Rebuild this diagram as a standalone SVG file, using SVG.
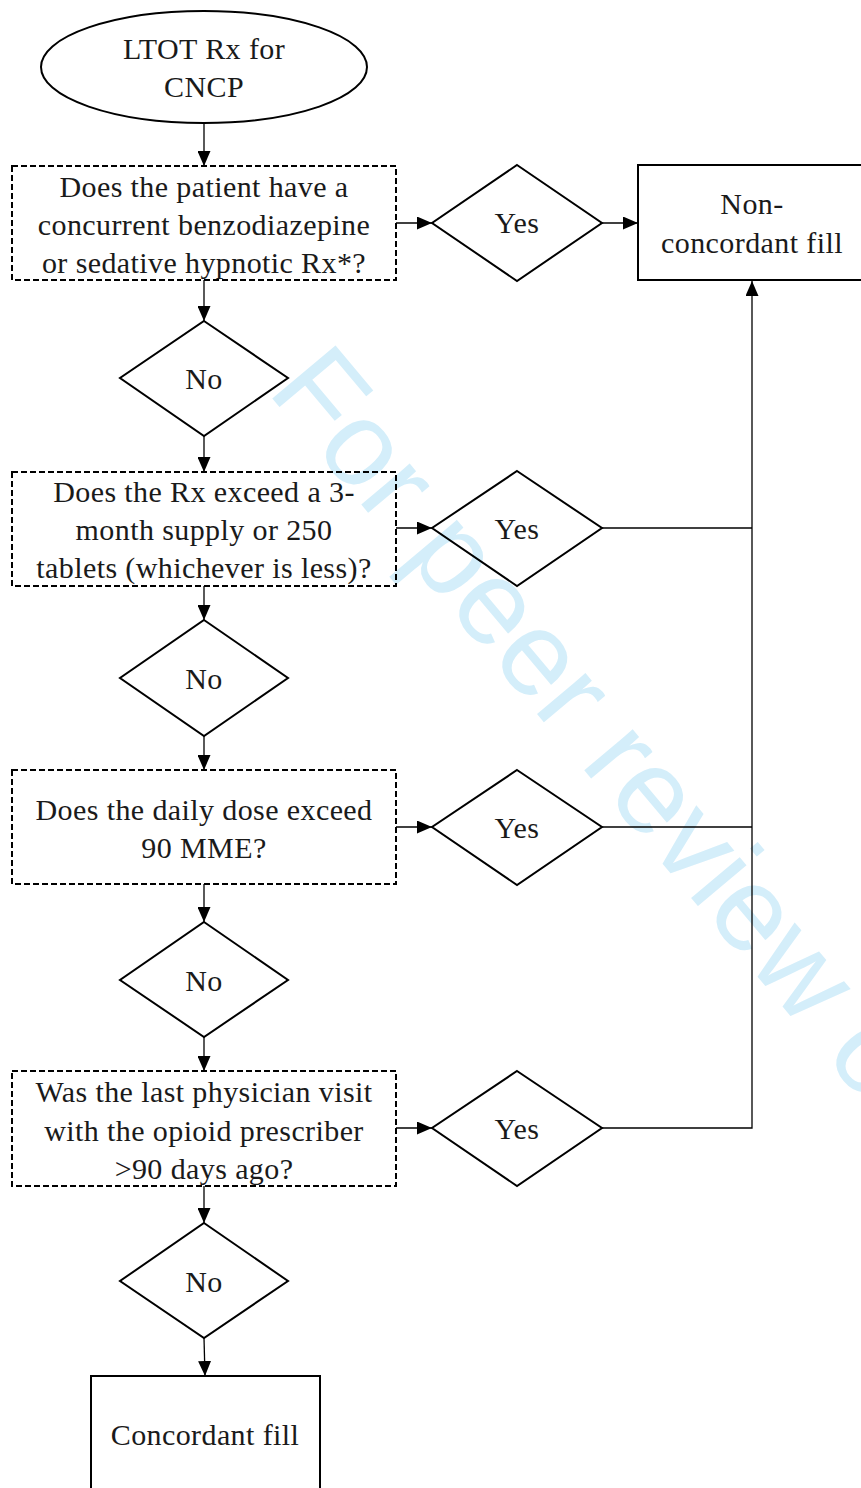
<svg xmlns="http://www.w3.org/2000/svg" width="861" height="1488" viewBox="0 0 861 1488">
<defs>
<marker id="ah" markerWidth="15" markerHeight="13" refX="15" refY="6.5" orient="auto" markerUnits="userSpaceOnUse" viewBox="0 0 15 13">
<path d="M0,0 L15,6.5 L0,13 Z" fill="#000"/>
</marker>
<style>
.t{font-family:"Liberation Serif","Times New Roman",serif;font-size:30px;letter-spacing:0.4px;fill:#1a1a1a;text-anchor:middle}
.dash{fill:none;stroke:#000;stroke-width:2;stroke-dasharray:6 3}
.solid{fill:none;stroke:#000;stroke-width:2}
.con{fill:none;stroke:#000;stroke-width:1.3}
.arr{marker-end:url(#ah)}
.wm{font-family:"Liberation Sans",Arial,sans-serif;font-size:120px;fill:#d4eefa}
</style>
</defs>
<rect width="861" height="1488" fill="#fff"/>
<text class="wm" x="266" y="391" transform="rotate(50 266 391)">For peer review only</text>

<g id="connectors">
<line class="con arr" x1="204" y1="124" x2="204" y2="166"/>
<line class="con arr" x1="396" y1="223" x2="432" y2="223"/>
<line class="con arr" x1="602" y1="223" x2="638" y2="223"/>
<line class="con arr" x1="204" y1="280" x2="204" y2="321"/>
<line class="con arr" x1="204" y1="436" x2="204" y2="472"/>
<line class="con arr" x1="396" y1="528" x2="432" y2="528"/>
<line class="con arr" x1="204" y1="586" x2="204" y2="620"/>
<line class="con arr" x1="204" y1="736" x2="204" y2="770"/>
<line class="con arr" x1="396" y1="827" x2="432" y2="827"/>
<line class="con arr" x1="204" y1="884" x2="204" y2="922"/>
<line class="con arr" x1="204" y1="1037" x2="204" y2="1071"/>
<line class="con arr" x1="396" y1="1128" x2="432" y2="1128"/>
<line class="con arr" x1="204" y1="1186" x2="204" y2="1223"/>
<line class="con arr" x1="204" y1="1338" x2="205" y2="1376"/>
<polyline class="con" points="602,528 752,528"/>
<polyline class="con" points="602,827 752,827"/>
<polyline class="con arr" points="602,1128 752,1128 752,281"/>
</g>

<g id="start">
<ellipse class="solid" cx="204" cy="67" rx="163" ry="56"/>
<text class="t" x="204" y="59">LTOT Rx for</text>
<text class="t" x="204" y="97">CNCP</text>
</g>

<g id="q1">
<rect class="dash" x="12" y="166" width="384" height="114"/>
<text class="t" x="204" y="197">Does the patient have a</text>
<text class="t" x="204" y="235">concurrent benzodiazepine</text>
<text class="t" x="204" y="273">or sedative hypnotic Rx*?</text>
</g>

<g id="yes1">
<polygon class="solid" points="517,165 602,223 517,281 432,223"/>
<text class="t" x="517" y="233">Yes</text>
</g>

<g id="noncordant">
<rect class="solid" x="638" y="165" width="230" height="115"/>
<text class="t" x="752" y="214">Non-</text>
<text class="t" x="752" y="253">concordant fill</text>
</g>

<g id="no1">
<polygon class="solid" points="204,321 288,378 204,436 120,378"/>
<text class="t" x="204" y="389">No</text>
</g>

<g id="q2">
<rect class="dash" x="12" y="472" width="384" height="114"/>
<text class="t" x="204" y="502">Does the Rx exceed a 3-</text>
<text class="t" x="204" y="540">month supply or 250</text>
<text class="t" x="204" y="578">tablets (whichever is less)?</text>
</g>

<g id="yes2">
<polygon class="solid" points="517,471 602,528 517,586 432,528"/>
<text class="t" x="517" y="539">Yes</text>
</g>

<g id="no2">
<polygon class="solid" points="204,620 288,678 204,736 120,678"/>
<text class="t" x="204" y="689">No</text>
</g>

<g id="q3">
<rect class="dash" x="12" y="770" width="384" height="114"/>
<text class="t" x="204" y="820">Does the daily dose exceed</text>
<text class="t" x="204" y="858">90 MME?</text>
</g>

<g id="yes3">
<polygon class="solid" points="517,770 602,827 517,885 432,827"/>
<text class="t" x="517" y="838">Yes</text>
</g>

<g id="no3">
<polygon class="solid" points="204,922 288,980 204,1037 120,980"/>
<text class="t" x="204" y="991">No</text>
</g>

<g id="q4">
<rect class="dash" x="12" y="1071" width="384" height="115"/>
<text class="t" x="204" y="1102">Was the last physician visit</text>
<text class="t" x="204" y="1141">with the opioid prescriber</text>
<text class="t" x="204" y="1179">&gt;90 days ago?</text>
</g>

<g id="yes4">
<polygon class="solid" points="517,1071 602,1128 517,1186 432,1128"/>
<text class="t" x="517" y="1139">Yes</text>
</g>

<g id="no4">
<polygon class="solid" points="204,1223 288,1281 204,1338 120,1281"/>
<text class="t" x="204" y="1292">No</text>
</g>

<g id="concordant">
<rect class="solid" x="91" y="1376" width="229" height="130"/>
<text class="t" x="205" y="1445">Concordant fill</text>
</g>
</svg>
